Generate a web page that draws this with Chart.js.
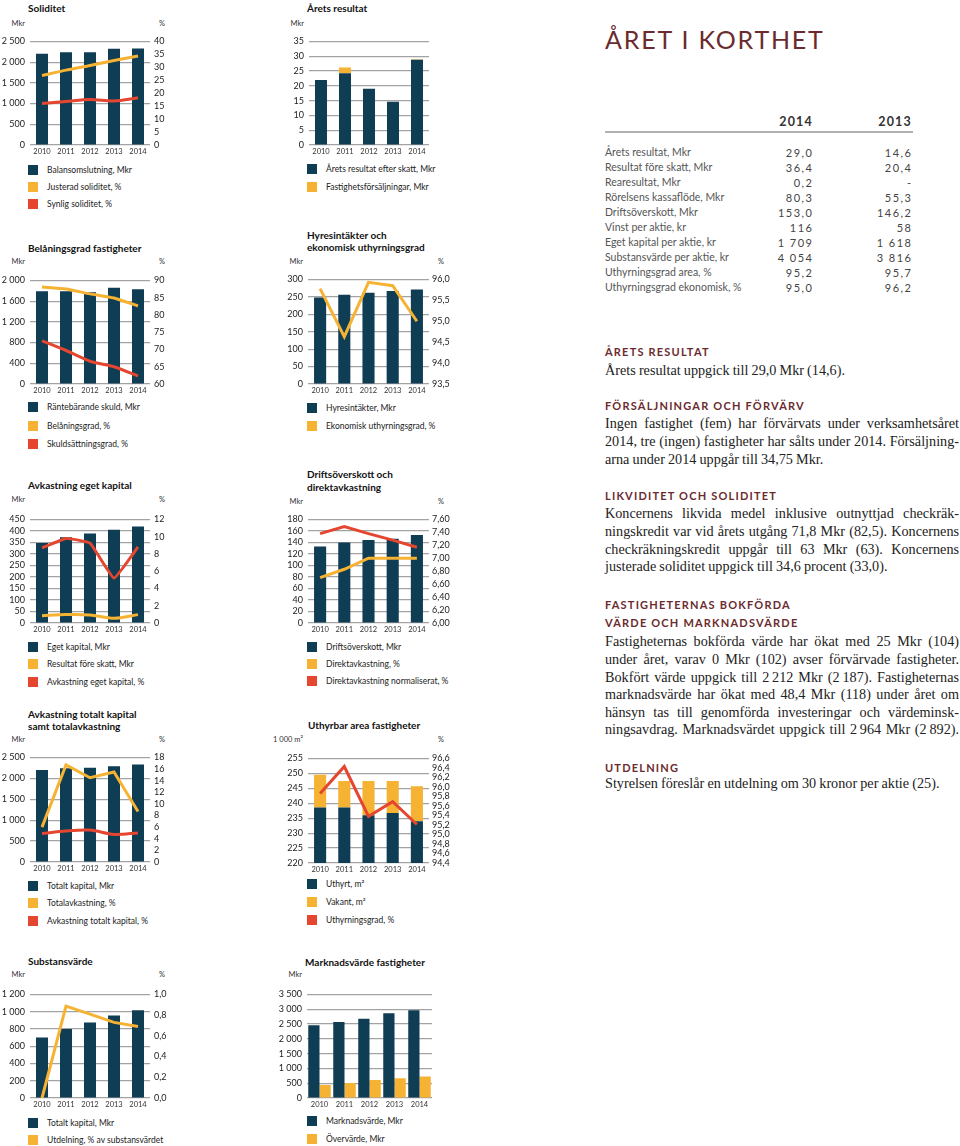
<!DOCTYPE html>
<html lang="sv">
<head>
<meta charset="utf-8">
<title>Året i korthet</title>
<script src="https://cdn.jsdelivr.net/npm/chart.js@4.4.1/dist/chart.umd.min.js"></script>
<style>
  html, body { margin: 0; padding: 0; }
  body { position: relative; width: 960px; height: 1146px; overflow: hidden; background: #fff; font-family: Lato, 'Open Sans', sans-serif; color: #222; }
  .abs { position: absolute; white-space: nowrap; line-height: 1; }
  .mid { transform: translateY(-50%); }
  canvas { position: absolute; }
  .title { font-weight: 700; font-size: 10px; color: #111; }
  .unit { font-size: 7.5px; color: #333; }
  .leg { font-size: 8.5px; color: #222; }
  .big { font-size: 25px; letter-spacing: 1.8px; color: #6b2b2e; }
  .th { font-weight: 700; font-size: 12.5px; letter-spacing: 1.2px; color: #333; }
  .tl { font-size: 10.5px; color: #555; }
  .tv { font-size: 11px; color: #444; letter-spacing: 1.5px; text-align: right; width: 60px; }
  .h { font-weight: 700; font-size: 11px; letter-spacing: 1.2px; color: #6b2b2e; }
  .p { position: absolute; left: 605px; width: 354px; font-family: 'Liberation Serif', 'Times New Roman', serif; font-size: 14.2px; word-spacing: -0.4px; line-height: 17.6px; color: #222; }
  .p div { text-align: justify; text-align-last: justify; }
  .p div.last { text-align-last: left; }
</style>
</head>
<body>
<script>
// ---- data ----
const years = ['2010', '2011', '2012', '2013', '2014'];

// Soliditet
const balansomslutning = [2200, 2240, 2240, 2320, 2330];
const justeradSoliditet = [26.8, 28.9, 30.7, 32.6, 34.4];
const synligSoliditet = [16.0, 16.8, 17.6, 17.0, 18.2];

// Årets resultat
const resultatEfterSkatt = [22.0, 24.2, 19.0, 14.6, 28.8];
const fastighetsforsaljningar = [0, 2.0, 0, 0, 0.2];

// Belåningsgrad fastigheter
const rantebarandeSkuld = [1790, 1790, 1770, 1860, 1830];
const belaningsgrad = [88.1, 87.5, 86.1, 84.9, 82.6];
const skuldsattningsgrad = [72.5, 69.7, 66.6, 65.0, 62.3];

// Hyresintäkter och ekonomisk uthyrningsgrad
const hyresintakter = [248, 256, 262, 267, 271];
const ekonomiskUthyrningsgrad = [95.78, 94.63, 95.93, 95.85, 95.0];

// Avkastning eget kapital
const egetKapital = [348, 372, 389, 405, 419];
const resultatForeSkatt = [31, 37, 35, 20.4, 36.4];
const avkastningEgetKapital = [8.7, 9.8, 9.25, 5.2, 8.8];

// Driftsöverskott och direktavkastning
const driftsoverskott = [133, 140, 144, 146.2, 153.0];
const direktavkastning = [6.70, 6.83, 7.0, 7.0, 7.0];
const direktavkastningNormaliserat = [7.38, 7.49, 7.38, 7.28, 7.17];

// Avkastning totalt kapital samt totalavkastning
const totaltKapital = [2200, 2240, 2250, 2290, 2330];
const totalavkastning = [6.0, 16.7, 14.5, 15.5, 8.7];
const avkastningTotaltKapital = [4.9, 5.35, 5.5, 4.75, 5.0];

// Uthyrbar area fastigheter (1 000 m²)
const uthyrt = [238.6, 238.6, 236.0, 236.7, 234.0];
const vakant = [10.9, 8.8, 11.4, 10.7, 11.7];
const uthyrningsgrad = [95.86, 96.43, 95.38, 95.69, 95.21];

// Substansvärde
const substansKapital = [700, 800, 875, 955, 1015];
const utdelning = [0, 0.887, 0.81, 0.73, 0.69];

// Marknadsvärde fastigheter
const marknadsvarde = [2460, 2570, 2680, 2860, 2964];
const overvarde = [440, 505, 605, 670, 725];

// Året i korthet - tabell
const tableLabels = ['Årets resultat, Mkr', 'Resultat före skatt, Mkr', 'Rearesultat, Mkr', 'Rörelsens kassaflöde, Mkr',
  'Driftsöverskott, Mkr', 'Vinst per aktie, kr', 'Eget kapital per aktie, kr', 'Substansvärde per aktie, kr',
  'Uthyrningsgrad area, %', 'Uthyrningsgrad ekonomisk, %'];
const values2014 = ['29,0', '36,4', '0,2', '80,3', '153,0', '116', '1 709', '4 054', '95,2', '95,0'];
const values2013 = ['14,6', '20,4', '-', '55,3', '146,2', '58', '1 618', '3 816', '95,7', '96,2'];

// ---- colours ----
const NAVY = '#0f3d54';
const YELLOW = '#f6b233';
const RED = '#e4462f';
const GRID = '#a3a3a3';

Chart.defaults.font.family = "Lato, 'Open Sans', sans-serif";
Chart.defaults.color = '#222';

// tusental med mellanslag, t.ex. 2 500
function fmtInt(v) {
  v = Math.round(v);
  if (v >= 1000) return Math.floor(v / 1000) + ' ' + String(v % 1000).padStart(3, '0');
  return String(v);
}
function fmtDec(d) {
  return v => v.toFixed(d).replace('.', ',');
}

function el(cls, x, y, str, extra) {
  const d = document.createElement('div');
  d.className = 'abs mid ' + cls;
  d.style.left = x + 'px';
  d.style.top = y + 'px';
  d.textContent = str;
  if (extra) Object.assign(d.style, extra);
  document.body.appendChild(d);
  return d;
}

function legend(x, ys, items) {
  items.forEach(([label, color], i) => {
    const sq = document.createElement('div');
    sq.className = 'abs';
    sq.style.cssText = `left:${x}px;top:${ys[i] - 5}px;width:10px;height:10px;background:${color}`;
    document.body.appendChild(sq);
    el('leg', x + 19, ys[i], label);
  });
}

function units(area, y, left, right) {
  el('unit', area[0] - 45, y, left, { width: '40px', textAlign: 'right' });
  if (right) el('unit', area[2] + 9, y, right);
}

function bar(data, color, extra) {
  return Object.assign({ type: 'bar', data, backgroundColor: color, barPercentage: 0.5, categoryPercentage: 1, yAxisID: 'y', order: 2 }, extra || {});
}
function line(data, color, extra) {
  return Object.assign({ type: 'line', data, borderColor: color, borderWidth: 3, pointRadius: 0, tension: 0, yAxisID: 'y1', order: 0, clip: 4 }, extra || {});
}

// area = [vänster, topp, höger, botten] för ritytan
function drawChart(area, datasets, yLeft, yRight, stacked) {
  const padL = 30, padR = 32, padT = 8, padB = 14;
  const w = area[2] - area[0] + padL + padR;
  const h = area[3] - area[1] + padT + padB;
  const canvas = document.createElement('canvas');
  canvas.width = w;
  canvas.height = h;
  canvas.style.left = (area[0] - padL) + 'px';
  canvas.style.top = (area[1] - padT) + 'px';
  canvas.style.width = w + 'px';
  canvas.style.height = h + 'px';
  document.body.appendChild(canvas);

  const scales = {
    x: {
      stacked: !!stacked,
      grid: { display: false, drawTicks: false },
      border: { display: false },
      ticks: { padding: 2, font: { size: 7.5 }, color: '#333', maxRotation: 0, autoSkip: false },
      afterFit: s => { s.height = padB; }
    },
    y: {
      position: 'left',
      stacked: !!stacked,
      min: yLeft.min, max: yLeft.max,
      grid: { color: GRID, lineWidth: 1.2, drawTicks: false },
      border: { display: false },
      ticks: { stepSize: yLeft.step, padding: 5, font: { size: 9 }, color: '#222', callback: yLeft.fmt || fmtInt, autoSkip: false, maxTicksLimit: 40 },
      afterFit: s => { s.width = padL; }
    }
  };
  if (yRight) {
    scales.y1 = {
      position: 'right',
      min: yRight.min, max: yRight.max,
      grid: { display: false, drawTicks: false },
      border: { display: false },
      ticks: { stepSize: yRight.step, padding: yRight.pad || 4, font: { size: 9 }, color: '#222', callback: yRight.fmt || fmtInt, autoSkip: false, maxTicksLimit: 40 },
      afterFit: s => { s.width = padR; }
    };
  }

  return new Chart(canvas, {
    type: 'bar',
    data: { labels: years, datasets },
    options: {
      responsive: false,
      animation: false,
      devicePixelRatio: 1,
      layout: { padding: { top: padT, right: yRight ? 0 : padR, left: 0, bottom: 0 } },
      plugins: { legend: { display: false }, tooltip: { enabled: false } },
      scales
    }
  });
}

document.addEventListener('DOMContentLoaded', () => {

  // 1. Soliditet
  const a1 = [30, 39, 150, 145];
  el('title', 28, 8, 'Soliditet');
  units(a1, 24, 'Mkr', '%');
  drawChart(a1, [
    bar(balansomslutning, NAVY),
    line(justeradSoliditet, YELLOW, { tension: 0.2 }),
    line(synligSoliditet, RED, { tension: 0.3 })
  ], { min: 0, max: 2500, step: 500 }, { min: 0, max: 40, step: 5 });
  legend(28, [170, 187, 204], [['Balansomslutning, Mkr', NAVY], ['Justerad soliditet, %', YELLOW], ['Synlig soliditet, %', RED]]);

  // 2. Årets resultat
  const a2 = [309, 39, 429, 145];
  el('title', 307, 8, 'Årets resultat');
  units(a2, 24, 'Mkr');
  drawChart(a2, [
    bar(resultatEfterSkatt, NAVY, { order: 1 }),
    bar(fastighetsforsaljningar, YELLOW, { order: 1 })
  ], { min: 0, max: 35, step: 5 }, null, true);
  legend(307, [169, 187], [['Årets resultat efter skatt, Mkr', NAVY], ['Fastighetsförsäljningar, Mkr', YELLOW]]);

  // 3. Belåningsgrad fastigheter
  const a3 = [30, 278, 150, 384];
  el('title', 28, 248, 'Belåningsgrad fastigheter');
  units(a3, 262, 'Mkr', '%');
  drawChart(a3, [
    bar(rantebarandeSkuld, NAVY),
    line(belaningsgrad, YELLOW, { tension: 0.2 }),
    line(skuldsattningsgrad, RED, { tension: 0.2 })
  ], { min: 0, max: 2000, step: 400 }, { min: 60, max: 90, step: 5 });
  legend(28, [407, 426, 444], [['Räntebärande skuld, Mkr', NAVY], ['Belåningsgrad, %', YELLOW], ['Skuldsättningsgrad, %', RED]]);

  // 4. Hyresintäkter och ekonomisk uthyrningsgrad
  const a4 = [308, 277, 429, 384];
  el('title', 307, 235, 'Hyresintäkter och');
  el('title', 307, 247, 'ekonomisk uthyrningsgrad');
  units(a4, 262, 'Mkr', '%');
  drawChart(a4, [
    bar(hyresintakter, NAVY),
    line(ekonomiskUthyrningsgrad, YELLOW)
  ], { min: 0, max: 300, step: 50 }, { min: 93.5, max: 96, step: 0.5, fmt: fmtDec(1), pad: 3 });
  legend(307, [408, 426], [['Hyresintäkter, Mkr', NAVY], ['Ekonomisk uthyrningsgrad, %', YELLOW]]);

  // 5. Avkastning eget kapital
  const a5 = [30, 517, 150, 623];
  el('title', 28, 485, 'Avkastning eget kapital');
  units(a5, 500, 'Mkr', '%');
  drawChart(a5, [
    bar(egetKapital, NAVY),
    line(resultatForeSkatt, YELLOW, { yAxisID: 'y', tension: 0.3 }),
    line(avkastningEgetKapital, RED, { tension: 0.1 })
  ], { min: 0, max: 450, step: 50 }, { min: 0, max: 12, step: 2 });
  legend(28, [647, 664, 682], [['Eget kapital, Mkr', NAVY], ['Resultat före skatt, Mkr', YELLOW], ['Avkastning eget kapital, %', RED]]);

  // 6. Driftsöverskott och direktavkastning
  const a6 = [308, 517, 429, 623];
  el('title', 307, 474, 'Driftsöverskott och');
  el('title', 307, 487, 'direktavkastning');
  units(a6, 502, 'Mkr', '%');
  drawChart(a6, [
    bar(driftsoverskott, NAVY),
    line(direktavkastning, YELLOW),
    line(direktavkastningNormaliserat, RED)
  ], { min: 0, max: 180, step: 20 }, { min: 6, max: 7.6, step: 0.2, fmt: fmtDec(2), pad: 3 });
  legend(307, [647, 664, 681], [['Driftsöverskott, Mkr', NAVY], ['Direktavkastning, %', YELLOW], ['Direktavkastning normaliserat, %', RED]]);

  // 7. Avkastning totalt kapital samt totalavkastning
  const a7 = [30, 755, 150, 862];
  el('title', 28, 714, 'Avkastning totalt kapital');
  el('title', 28, 726, 'samt totalavkastning');
  units(a7, 740, 'Mkr', '%');
  drawChart(a7, [
    bar(totaltKapital, NAVY),
    line(totalavkastning, YELLOW),
    line(avkastningTotaltKapital, RED, { tension: 0.3 })
  ], { min: 0, max: 2500, step: 500 }, { min: 0, max: 18, step: 2 });
  legend(28, [886, 903, 921], [['Totalt kapital, Mkr', NAVY], ['Totalavkastning, %', YELLOW], ['Avkastning totalt kapital, %', RED]]);

  // 8. Uthyrbar area fastigheter
  const a8 = [308, 756, 429, 863];
  el('title', 308, 725, 'Uthyrbar area fastigheter');
  units(a8, 740, '1 000 m²', '%');
  drawChart(a8, [
    bar(uthyrt, NAVY, { order: 1 }),
    bar(vakant, YELLOW, { order: 1 }),
    line(uthyrningsgrad, RED)
  ], { min: 220, max: 255, step: 5 }, { min: 94.4, max: 96.6, step: 0.2, fmt: fmtDec(1), pad: 3 }, true);
  legend(307, [884, 902, 920], [['Uthyrt, m²', NAVY], ['Vakant, m²', YELLOW], ['Uthyrningsgrad, %', RED]]);

  // 9. Substansvärde
  const a9 = [30, 992, 150, 1098];
  el('title', 28, 961, 'Substansvärde');
  units(a9, 975, 'Mkr', '%');
  drawChart(a9, [
    bar(substansKapital, NAVY),
    line(utdelning, YELLOW)
  ], { min: 0, max: 1200, step: 200 }, { min: 0, max: 1, step: 0.2, fmt: fmtDec(1) });
  legend(28, [1123, 1140], [['Totalt kapital, Mkr', NAVY], ['Utdelning, % av substansvärdet', YELLOW]]);

  // 10. Marknadsvärde fastigheter
  const a10 = [307, 992, 432, 1098];
  el('title', 305, 962, 'Marknadsvärde fastigheter');
  units(a10, 975, 'Mkr');
  drawChart(a10, [
    bar(marknadsvarde, NAVY, { barPercentage: 1, categoryPercentage: 0.9 }),
    bar(overvarde, YELLOW, { barPercentage: 1, categoryPercentage: 0.9 })
  ], { min: 0, max: 3500, step: 500 }, null);
  legend(307, [1121, 1139], [['Marknadsvärde, Mkr', NAVY], ['Övervärde, Mkr', YELLOW]]);

  // ---- Året i korthet ----
  el('big', 605, 39, 'ÅRET I KORTHET');
  el('th', 752, 122, '2014', { width: '61px', textAlign: 'right' });
  el('th', 851, 122, '2013', { width: '61px', textAlign: 'right' });
  const rule = document.createElement('div');
  rule.className = 'abs';
  rule.style.cssText = 'left:605px;top:131px;width:308px;height:2px;background:#b0b0b0';
  document.body.appendChild(rule);
  tableLabels.forEach((label, i) => {
    const y = 151.5 + i * 15;
    el('tl', 605, y, label);
    el('tv', 753.5, y, values2014[i]);
    el('tv', 852.5, y, values2013[i]);
  });

  // rubriker och brödtext
  function para(center, lines, fullLast) {
    const d = document.createElement('div');
    d.className = 'p';
    d.style.top = (center - 9.6) + 'px';
    lines.forEach((t, i) => {
      const l = document.createElement('div');
      l.textContent = t;
      if (i === lines.length - 1 && !fullLast) l.className = 'last';
      d.appendChild(l);
    });
    document.body.appendChild(d);
  }

  el('h', 605, 351, 'ÅRETS RESULTAT');
  para(372, ['Årets resultat uppgick till 29,0 Mkr (14,6).']);

  el('h', 605, 405, 'FÖRSÄLJNINGAR OCH FÖRVÄRV');
  para(425, ['Ingen fastighet (fem) har förvärvats under verksamhetsåret',
    '2014, tre (ingen) fastigheter har sålts under 2014. Försäljning-',
    'arna under 2014 uppgår till 34,75 Mkr.']);

  el('h', 605, 495, 'LIKVIDITET OCH SOLIDITET');
  para(515, ['Koncernens likvida medel inklusive outnyttjad checkräk-',
    'ningskredit var vid årets utgång 71,8 Mkr (82,5). Koncernens',
    'checkräkningskredit uppgår till 63 Mkr (63). Koncernens',
    'justerade soliditet uppgick till 34,6 procent (33,0).']);

  el('h', 605, 604, 'FASTIGHETERNAS BOKFÖRDA');
  el('h', 605, 622, 'VÄRDE OCH MARKNADSVÄRDE');
  para(643, ['Fastigheternas bokförda värde har ökat med 25 Mkr (104)',
    'under året, varav 0 Mkr (102) avser förvärvade fastigheter.',
    'Bokfört värde uppgick till 2\u2009212 Mkr (2\u2009187). Fastigheternas',
    'marknadsvärde har ökat med 48,4 Mkr (118) under året om',
    'hänsyn tas till genomförda investeringar och värdeminsk-',
    'ningsavdrag. Marknadsvärdet uppgick till 2\u2009964 Mkr (2\u2009892).'], true);

  el('h', 605, 767, 'UTDELNING');
  para(785, ['Styrelsen föreslår en utdelning om 30 kronor per aktie (25).']);
});
</script>
</body>
</html>
